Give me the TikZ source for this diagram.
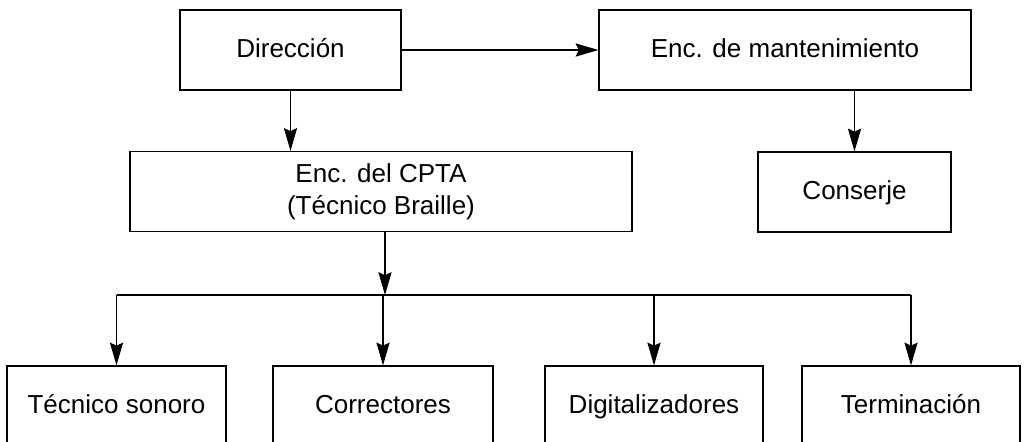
\documentclass[tikz,border=0pt]{standalone}
\usepackage{fontspec}
\setmainfont{Liberation Sans}
\usetikzlibrary{arrows.meta}

\begin{document}
\begin{tikzpicture}[x=0.02cm, y=-0.02cm]
            \tikzset{box/.style={draw, line width=0.7pt, minimum height=1.6cm, inner sep=0pt, align=center, font=\fontsize{14.8}{18.2}\selectfont}}
            \tikzset{onebox/.style={box, text height=11.5pt, text depth=3pt}}
            \tikzset{arr/.style={-{Stealth[length=13pt, width=7.5pt, inset=1.8pt]}, line width=0.7pt}}
            \clip (0,0) rectangle (1028,442);
            \node[onebox, minimum width=4.42cm] (dir) at (290.5,50) {Dirección};
            \node[onebox, minimum width=7.44cm] (mant) at (785,50) {Enc. de mantenimiento};
            \node[box, minimum width=10.04cm] (cpta) at (381,191.5) {Enc. del CPTA\\(Técnico Braille)};
            \node[onebox, minimum width=3.86cm] (cons) at (854.5,192) {Conserje};
            \node[onebox, minimum width=4.38cm] (tec) at (116.5,406) {Técnico sonoro};
            \node[onebox, minimum width=4.4cm] (corr) at (383,406) {Correctores};
            \node[onebox, minimum width=4.36cm] (dig) at (654,406) {Digitalizadores};
            \node[onebox, minimum width=4.36cm] (term) at (911,406) {Terminación};
            \coordinate (bus) at (385,295);
            \draw[arr] (dir.east) -- (mant.west);
            \draw[arr] (dir.south) -- (dir.south |- cpta.north);
            \draw[arr] (cons.north |- mant.south) -- (cons.north);
            \draw[arr] (bus |- cpta.south) -- (bus);
            \draw[line width=0.7pt] (bus -| tec.north) -- (bus -| term.north);
            \foreach \k in {tec, corr, dig, term}
                \draw[arr] (bus -| \k.north) -- (\k.north);
        \end{tikzpicture}
\end{document}
